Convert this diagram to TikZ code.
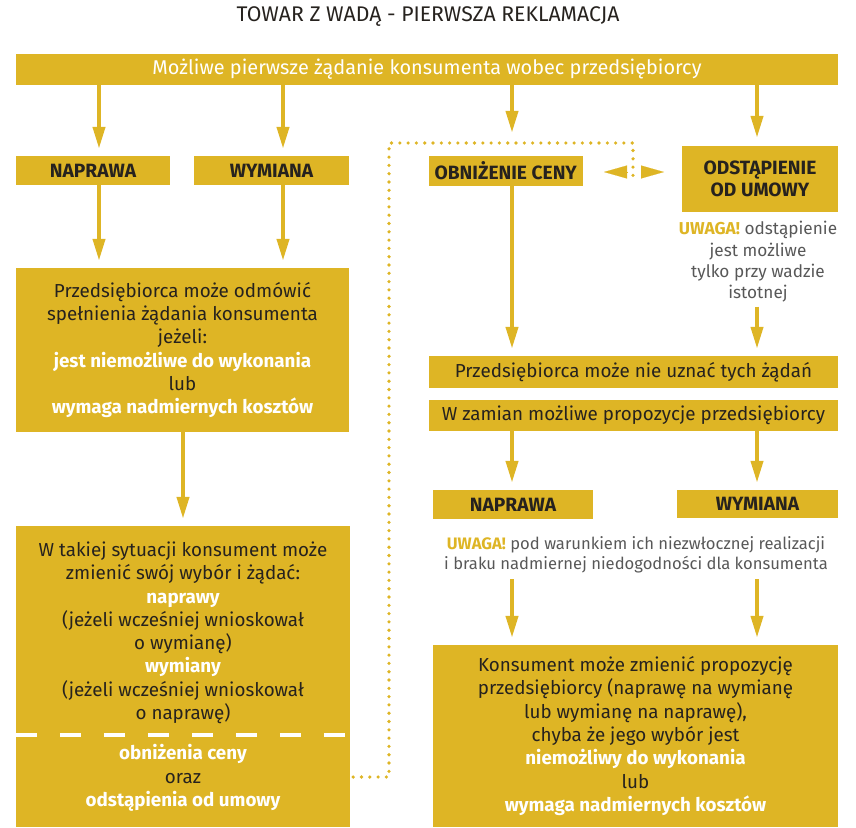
\documentclass[tikz,border=0pt]{standalone}
\usepackage{fontspec}
\setmainfont{Fira Sans}
\usetikzlibrary{arrows.meta, positioning}
\definecolor{gold}{RGB}{222,181,37}
\definecolor{ink}{RGB}{38,34,30}
\definecolor{notegray}{RGB}{88,88,88}
\newcommand{\hl}[1]{\textcolor{white}{\bfseries #1}}
\newcommand{\uwaga}{\textcolor{gold}{\bfseries UWAGA!}}
\tikzset{
  box/.style={fill=gold, inner sep=0pt, align=center, text=ink,
    font=\fontsize{18.8}{23.3}\selectfont},
  headbox/.style={box, font=\fontsize{19.2}{22}\selectfont\bfseries},
  notetext/.style={align=center, text=notegray, inner sep=0pt},
  arr/.style={gold, line width=4pt, -{Triangle[width=12pt,length=22pt]}, shorten >=7pt},
  dots/.style={gold, line width=3.6pt, line cap=round, dash pattern=on 0pt off 8.3pt},
}

\begin{document}
\begin{tikzpicture}[x=1pt,y=-1pt]
  \useasboundingbox (0,0) rectangle (856,827);

  % title and first request
  \node[text=ink, font=\fontsize{21.2}{25}\selectfont] (title) at (428,17)
    {TOWAR Z WADĄ - PIERWSZA REKLAMACJA};
  \node[box, text=white, font=\fontsize{19.9}{24}\selectfont,
    minimum width=822pt, minimum height=31pt] (top) at (427,69.5)
    {Możliwe pierwsze żądanie konsumenta wobec przedsiębiorcy};

  % left branch
  \node[headbox, minimum width=154pt, minimum height=29pt] (nap1) at (93,170.5) {NAPRAWA};
  \node[headbox, minimum width=155pt, minimum height=29pt] (wym1) at (271.5,170.5) {WYMIANA};
  \node[box, minimum width=333pt, minimum height=164pt] (odmowa) at (182.5,350)
    {Przedsiębiorca może odmówić\\spełnienia żądania konsumenta\\jeżeli:\\
     \hl{jest niemożliwe do wykonania}\\lub\\\hl{wymaga nadmiernych kosztów}};
  \node[box, minimum width=334pt, minimum height=301pt] (zmiana) at (183,676.5)
    {W takiej sytuacji konsument może\\zmienić swój wybór i żądać:\\\hl{naprawy}\\
     (jeżeli wcześniej wnioskował\\o wymianę)\\\hl{wymiany}\\
     (jeżeli wcześniej wnioskował\\o naprawę)\\[17pt]
     \hl{obniżenia ceny}\\oraz\\\hl{odstąpienia od umowy}};
  \draw[white, line width=3.5pt, dash pattern=on 21pt off 23pt]
    (zmiana.west |- 0,735) -- (zmiana.east |- 0,735);

  % right branch
  \node[headbox, minimum width=154.5pt, minimum height=30pt] (obn) at (505.75,171) {OBNIŻENIE CENY};
  \node[headbox, minimum width=156pt, minimum height=66pt] (ods) at (760,179)
    {ODSTĄPIENIE\\OD UMOWY};
  \node[notetext, font=\fontsize{17.2}{21.3}\selectfont] (odsnote) at (758,262)
    {\uwaga{} odstąpienie\\jest możliwe\\tylko przy wadzie\\istotnej};
  \node[box, minimum width=409pt, minimum height=32pt] (nieuznac) at (633.5,372)
    {Przedsiębiorca może nie uznać tych żądań};
  \node[box, minimum width=409pt, minimum height=31pt] (zamian) at (633.5,415.5)
    {W zamian możliwe propozycje przedsiębiorcy};
  \node[headbox, minimum width=160pt, minimum height=29pt] (nap2) at (513,504.5) {NAPRAWA};
  \node[headbox, minimum width=161pt, minimum height=28pt] (wym2) at (757.5,504) {WYMIANA};
  \node[notetext, font=\fontsize{16.6}{20}\selectfont] (uwnote) at (636,555)
    {\uwaga{} pod warunkiem ich niezwłocznej realizacji\\
     i braku nadmiernej niedogodności dla konsumenta};
  \node[box, minimum width=405pt, minimum height=182pt] (konsument) at (635.5,736)
    {Konsument może zmienić propozycję\\przedsiębiorcy (naprawę na wymianę\\
     lub wymianę na naprawę),\\chyba że jego wybór jest\\
     \hl{niemożliwy do wykonania}\\lub\\\hl{wymaga nadmiernych kosztów}};

  % arrows
  \draw[arr] (top.south -| 99,0) -- (nap1.north -| 99,0);
  \draw[arr] (top.south -| 283,0) -- (wym1.north -| 283,0);
  \draw[arr, shorten >=23pt] (top.south -| 512,0) -- (obn.north -| 512,0);
  \draw[arr, shorten >=8pt] (top.south -| 757,0) -- (ods.north -| 757,0);
  \draw[arr] (nap1.south -| 99,0) -- (odmowa.north -| 99,0);
  \draw[arr] (wym1.south -| 283,0) -- (odmowa.north -| 283,0);
  \draw[arr] (odmowa.south -| 183,0) -- (zmiana.north -| 183,0);
  \draw[arr] (obn.south -| 512,0) -- (nieuznac.north -| 512,0);
  \draw[arr, shorten <=4pt] (odsnote.south -| 757,0) -- (nieuznac.north -| 757,0);
  \draw[arr] (zamian.south -| 512,0) -- (nap2.north -| 512,0);
  \draw[arr] (zamian.south -| 757,0) -- (wym2.north -| 757,0);
  \draw[arr, shorten <=6pt] (uwnote.south -| 512,0) -- (konsument.north -| 512,0);
  \draw[arr, shorten <=6pt] (uwnote.south -| 757,0) -- (konsument.north -| 757,0);

  % dotted link back to price reduction / withdrawal
  \coordinate (dA) at (389,143);
  \coordinate (dB) at (633,178);
  \coordinate (dC) at (634,172);
  \draw[dots] ([xshift=3pt]zmiana.east |- 0,777) -| (dA) -| (dB);
  \draw[gold, line width=0.1pt, -{Triangle[width=13pt,length=23pt]}]
    ([xshift=-7pt]dC) -- ([xshift=-30pt]dC);
  \draw[gold, line width=0.1pt, -{Triangle[width=13pt,length=23pt]}]
    ([xshift=7pt]dC) -- ([xshift=30pt]dC);
\end{tikzpicture}
\end{document}
